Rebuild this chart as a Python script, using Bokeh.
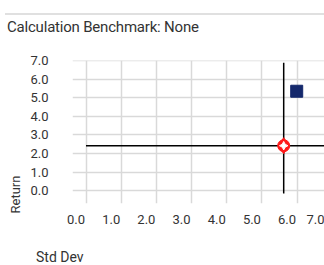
import math
from bokeh.plotting import figure
from bokeh.models import (Range1d, LinearAxis, FixedTicker, PrintfTickFormatter,
                          Title, Div)
from bokeh.layouts import column
from bokeh.embed import file_html
from bokeh.resources import INLINE

# ---- data ----
title_text = "Calculation Benchmark: None"
x_label = "Std Dev"
y_label = "Return"
x_ticks = [0, 1, 2, 3, 4, 5, 6, 7]
y_ticks = [0, 1, 2, 3, 4, 5, 6, 7]
fund_std = [5.99]
fund_ret = [5.36]
cat_std = [5.62]
cat_ret = [2.42]

FONT = "Roboto"
TXT = "#333333"

# ---- header ----
header = Div(
    text=('<div style="position:relative;width:324px;height:50px;font-family:Roboto;color:#333333">'
          '<div style="position:absolute;left:5px;top:13px;width:319px;border-top:2px solid #e0e0e0"></div>'
          '<div style="position:absolute;left:7px;top:19px;font-size:15px;line-height:17px;'
          'letter-spacing:-0.2px;white-space:nowrap">'
          + title_text + '</div></div>'),
    width=324, height=50, margin=0)

# ---- main chart ----
p = figure(width=324, height=190, output_backend="svg", toolbar_location=None,
           x_range=Range1d(-0.384, 6.78), y_range=Range1d(-0.7, 7.02),
           min_border_left=72, min_border_right=0, min_border_top=10,
           min_border_bottom=37, outline_line_color=None, margin=0)

p.xaxis.visible = False
p.xgrid.ticker = FixedTicker(ticks=x_ticks)
p.ygrid.ticker = FixedTicker(ticks=y_ticks)
p.grid.grid_line_color = "#d9d9d9"
p.grid.grid_line_width = 1.5

ya = p.yaxis[0]
ya.ticker = FixedTicker(ticks=y_ticks)
ya.formatter = PrintfTickFormatter(format="%.1f")
ya.axis_line_color = None
ya.major_tick_line_color = None
ya.minor_tick_line_color = None
ya.major_tick_out = 0
ya.major_tick_in = 0
ya.minor_tick_out = 0
ya.major_label_standoff = 24
ya.major_label_text_font = FONT
ya.major_label_text_font_size = "13px"
ya.major_label_text_color = TXT

# tick-label axis, shifted left relative to the gridlines as in the reference
p.extra_x_ranges = {"lbl": Range1d(-0.384 + 0.284, 6.78 + 0.284)}
xa = LinearAxis(x_range_name="lbl", ticker=FixedTicker(ticks=x_ticks),
                formatter=PrintfTickFormatter(format="%.1f"))
xa.axis_line_color = None
xa.major_tick_line_color = None
xa.minor_tick_line_color = None
xa.major_tick_out = 0
xa.major_tick_in = 0
xa.minor_tick_out = 0
xa.major_label_standoff = 11
xa.major_label_text_font = FONT
xa.major_label_text_font_size = "13px"
xa.major_label_text_color = TXT
p.add_layout(xa, "below")

# crosshair through category point
p.segment(x0=[0], y0=cat_ret, x1=[7.2], y1=cat_ret, line_color="black", line_width=1.5)
p.segment(x0=cat_std, y0=[-0.16], x1=cat_std, y1=[6.9], line_color="black", line_width=1.5)

# fund point
p.scatter(fund_std, fund_ret, marker="square", size=12, fill_color="#14286b",
          line_color="#14286b")

# category marker
p.scatter(cat_std, cat_ret, marker="circle", size=12, fill_color="#ff1a1a",
          line_color="#ff1a1a")
p.scatter(cat_std, cat_ret, marker="diamond", size=16, fill_color="#ff1a1a",
          line_color="#ff1a1a")
p.scatter(cat_std, cat_ret, marker="square_pin", angle=math.pi / 4, size=6,
          fill_color="white", line_color="white")

# y axis title
p.add_layout(Title(text=y_label, align="left", offset=-10, standoff=9,
                   text_font=FONT, text_font_size="13px", text_color=TXT,
                   text_font_style="normal"), "left")

# ---- x axis title ----
footer = Div(
    text=('<div style="position:relative;width:324px;height:25px;font-family:Roboto;color:#333333">'
          '<div style="position:absolute;left:36px;top:10px;font-size:14px;line-height:14px;'
          'white-space:nowrap">' + x_label + '</div></div>'),
    width=324, height=25, margin=0)

layout = column(header, p, footer, spacing=0)
open("out.html", "w").write(file_html(layout, INLINE))
